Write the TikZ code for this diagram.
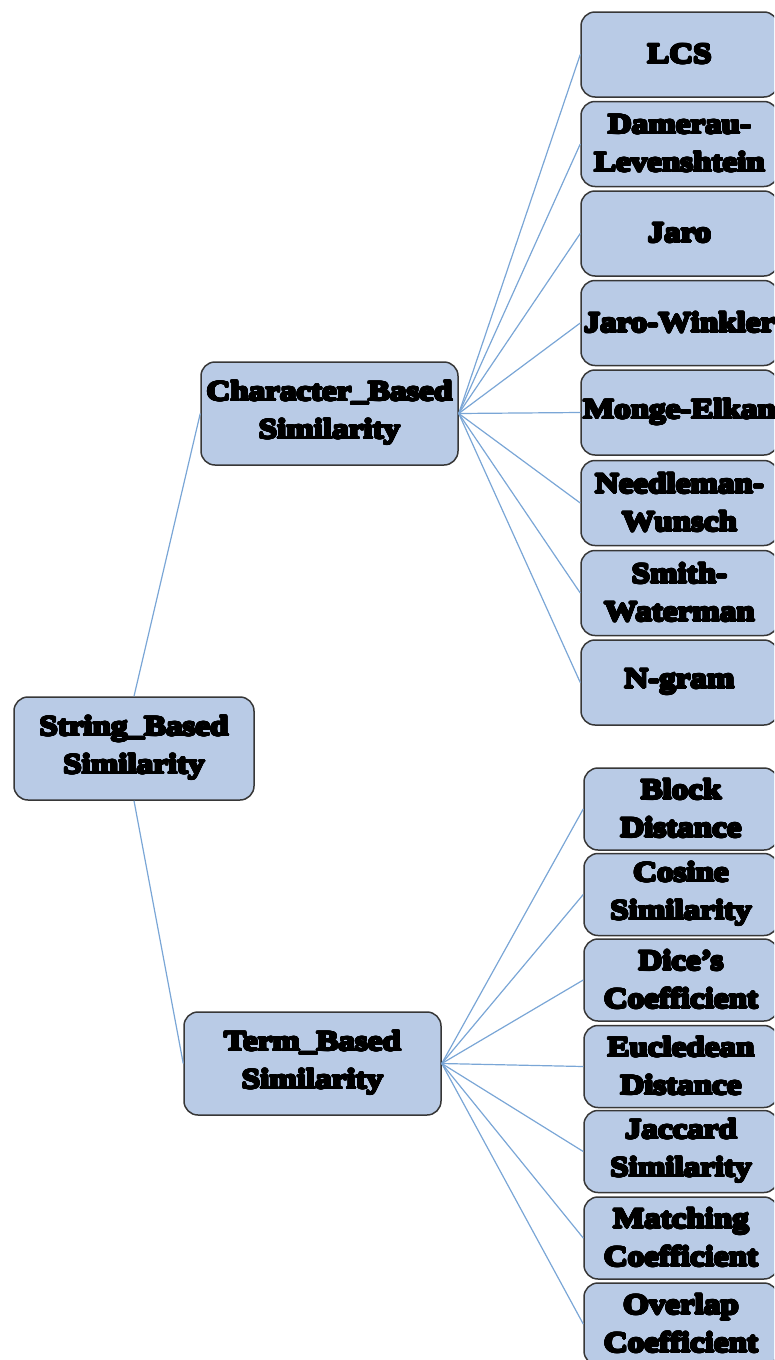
\documentclass[tikz,border=0pt]{standalone}
\usepackage{fontspec}
\usepackage[copies]{contour}
\setmainfont{Liberation Serif}
\newfontfamily\heavyface{Liberation Serif}[UprightFont={* Bold},FakeStretch=1.18]
\contourlength{1.1pt}
\contournumber{24}
\newcommand{\hv}[1]{\contour{black}{#1}}
\definecolor{boxfill}{RGB}{185,203,230}
\definecolor{boxedge}{RGB}{55,55,55}
\definecolor{linkblue}{RGB}{122,166,214}
\begin{document}
\begin{tikzpicture}[x=1pt,y=-1pt,
  box/.style={draw=boxedge,fill=boxfill,line width=1.5pt,rounded corners=14pt,
    align=center,inner sep=0pt,
    font=\heavyface\fontsize{28}{38}\selectfont},
  mid/.style={box,minimum width=257pt,minimum height=103pt},
  leaf/.style={box,minimum width=197pt,minimum height=85pt},
  tleaf/.style={box,minimum width=194pt,minimum height=82pt},
  link/.style={draw=linkblue,line width=1.2pt}]
\useasboundingbox (0,0) rectangle (774,1360);
\clip (0,0) rectangle (774,1360);

% root and the two families
\node[box,minimum width=240pt,minimum height=103pt] (root) at (134,748.5) {\hv{String\_Based}\\\hv{Similarity}};
\node[mid] (chr) at (329.5,413.5) {\hv{Character\_Based}\\\hv{Similarity}};
\node[mid] (term) at (312.5,1063.5) {\hv{Term\_Based}\\\hv{Similarity}};

% character-based measures
\node[leaf] (c1) at (679.5,54.5) {\hv{LCS}};
\node[leaf] (c2) at (679.5,144) {\hv{Damerau-}\\\hv{Levenshtein}};
\node[leaf] (c3) at (679.5,233.5) {\hv{Jaro}};
\node[leaf] (c4) at (679.5,323) {\hv{Jaro-Winkler}};
\node[leaf] (c5) at (679.5,412.5) {\hv{Monge-Elkan}};
\node[leaf] (c6) at (679.5,503) {\hv{Needleman-}\\\hv{Wunsch}};
\node[leaf] (c7) at (679.5,593) {\hv{Smith-}\\\hv{Waterman}};
\node[leaf] (c8) at (679.5,682.5) {\hv{N-gram}};

% term-based measures
\node[tleaf] (t1) at (681,809) {\hv{Block}\\\hv{Distance}};
\node[tleaf] (t2) at (681,894.5) {\hv{Cosine}\\\hv{Similarity}};
\node[tleaf] (t3) at (681,980) {\hv{Dice’s}\\\hv{Coefficient}};
\node[tleaf] (t4) at (681,1066.5) {\hv{Eucledean}\\\hv{Distance}};
\node[tleaf] (t5) at (681,1151.5) {\hv{Jaccard}\\\hv{Similarity}};
\node[tleaf] (t6) at (681,1238) {\hv{Matching}\\\hv{Coefficient}};
\node[tleaf] (t7) at (681,1324) {\hv{Overlap}\\\hv{Coefficient}};

% connectors
\draw[link] (root.north) -- (chr.west);
\draw[link] (root.south) -- (term.west);
\foreach \n in {c1,c2,c3,c4,c5,c6,c7,c8}
  \draw[link] (chr.east) -- (\n.west);
\foreach \n in {t1,t2,t3,t4,t5,t6,t7}
  \draw[link] (term.east) -- (\n.west);
\end{tikzpicture}
\end{document}
